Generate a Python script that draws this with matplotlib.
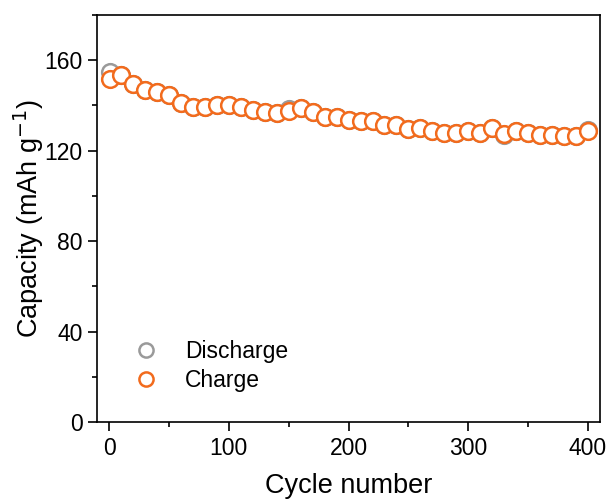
import matplotlib.pyplot as plt
from matplotlib.ticker import MultipleLocator

plt.rcParams['font.family'] = ['Liberation Sans', 'DejaVu Sans']

# données
cycles = [1, 10, 20, 30, 40, 50, 60, 70, 80, 90, 100, 110, 120, 130, 140, 150,
          160, 170, 180, 190, 200, 210, 220, 230, 240, 250, 260, 270, 280, 290,
          300, 310, 320, 330, 340, 350, 360, 370, 380, 390, 400]
charge = [151.5, 153.5, 149.5, 147, 146, 144.5, 141, 139.5, 139.5, 140, 140,
          139.5, 138, 137, 136.5, 137.5, 139, 137, 135, 135, 133.5, 133, 133,
          131.5, 131.5, 129.5, 130, 128.5, 128, 128, 128.5, 128, 130, 127.5,
          128.5, 128, 127, 127, 126.5, 126.5, 128.5]
discharge = [155, 153.5, 149.5, 147, 146, 144.5, 141, 139.5, 139.5, 140, 140,
             139.5, 138, 137, 136.5, 138.5, 139, 137, 135, 135, 133.5, 133, 133,
             131.5, 131.5, 129.5, 130, 128.5, 128, 128, 128.5, 128, 130, 127,
             128.5, 128, 127, 127, 126.5, 126.5, 129]

fig = plt.figure(figsize=(6.11, 5), dpi=100)
ax = fig.add_axes([0.159, 0.156, 0.823, 0.814])

ax.plot(cycles, discharge, 'o', mfc='white', mec='#9a9a9a', ms=12, mew=1.8,
        label='Discharge')
ax.plot(cycles, charge, 'o', mfc='white', mec='#f26b1d', ms=12, mew=1.8,
        label='Charge')

ax.set_xlim(-10, 410)
ax.set_ylim(0, 180)
ax.set_xticks([0, 100, 200, 300, 400])
ax.set_yticks([0, 40, 80, 120, 160])
ax.xaxis.set_minor_locator(MultipleLocator(50))
ax.yaxis.set_minor_locator(MultipleLocator(20))
ax.tick_params(which='major', direction='out', length=6.5, width=1.2,
               labelsize=16.5, pad=4)
ax.tick_params(which='minor', direction='out', length=3.5, width=1.2)
for s in ax.spines.values():
    s.set_linewidth(1.2)

ax.set_xlabel('Cycle number', fontsize=19.5, labelpad=10)
ax.set_ylabel('Capacity (mAh g$^{-1}$)', fontsize=19.5, labelpad=-1.5)

ax.legend(loc='lower left', bbox_to_anchor=(0.01, 0.022), frameon=False,
          fontsize=16.5, handletextpad=0.7, labelspacing=0.3, markerscale=0.85)

plt.savefig('out.png', dpi=100)
